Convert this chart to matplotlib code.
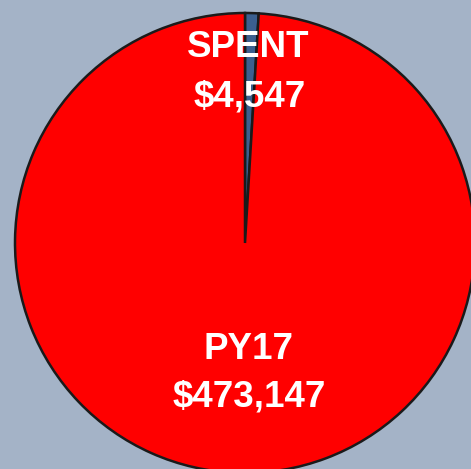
import matplotlib
matplotlib.use("Agg")
import matplotlib.pyplot as plt

categories = ["SPENT", "PY17"]
values = [4547, 473147]
value_labels = ["$4,547", "$473,147"]
colors = ["#3b5f8f", "#ff0000"]

bg = "#a4b3c7"
fig = plt.figure(figsize=(4.71, 4.69), dpi=100, facecolor=bg)
W, H = 471, 469
cx, cy, r = 245, 243, 230
ax = fig.add_axes([(cx - r) / W, (H - cy - r) / H, 2 * r / W, 2 * r / H])
ax.set_facecolor(bg)
wedges, _ = ax.pie(values, colors=colors, startangle=90, counterclock=False,
                   wedgeprops=dict(edgecolor="#1a1a1a", linewidth=1.8))
for w in wedges:
    w.set_clip_on(False)
ax.set_xlim(-1, 1)
ax.set_ylim(-1, 1)
ax.set_aspect("equal")
ax.axis("off")

def px(p):
    return (p - cx) / r

def py(p):
    return (cy - p) / r

tkw = dict(ha="center", va="baseline", color="white", fontsize=26.5,
           fontweight="bold", family=["Liberation Sans", "DejaVu Sans"])
ax.text(px(248), py(57), categories[0], **tkw)
ax.text(px(250), py(106), value_labels[0], **tkw)
ax.text(px(248), py(359), categories[1], **tkw)
ax.text(px(249), py(406), value_labels[1], **tkw)

fig.savefig("out.png", dpi=100, facecolor=bg)
